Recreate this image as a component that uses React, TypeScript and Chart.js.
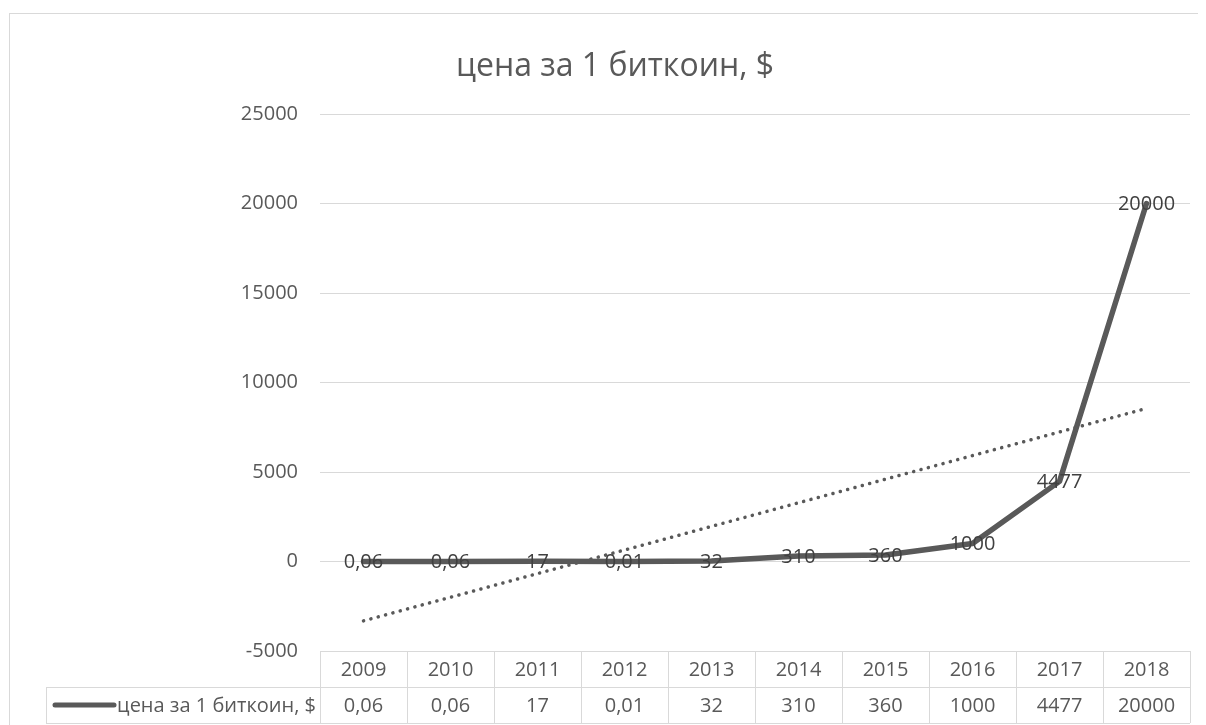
import React, { useEffect, useRef } from "react";
import { Chart, registerables } from "chart.js";

Chart.register(...registerables);

const TITLE = "цена за 1 биткоин, $";
const SERIES_NAME = "цена за 1 биткоин, $";
const YEARS = ["2009", "2010", "2011", "2012", "2013", "2014", "2015", "2016", "2017", "2018"];
const PRICES = [0.06, 0.06, 17, 0.01, 32, 310, 360, 1000, 4477, 20000];
const Y_MIN = -5000;
const Y_MAX = 25000;
const Y_STEP = 5000;

const FONT = "'Open Sans', 'Noto Sans', sans-serif";
const TEXT = "#595959";
const LABEL = "#404040";
const GRID = "#d9d9d9";
const LINE = "#595959";

const fmt = (v: number) => String(v).replace(".", ",");

// linear trendline (least squares) from the data, as Excel does
function linearTrend(values: number[]): number[] {
  const n = values.length;
  const xs = values.map((_, i) => i + 1);
  const mx = xs.reduce((a, b) => a + b, 0) / n;
  const my = values.reduce((a, b) => a + b, 0) / n;
  let sxy = 0;
  let sxx = 0;
  for (let i = 0; i < n; i++) {
    sxy += (xs[i] - mx) * (values[i] - my);
    sxx += (xs[i] - mx) * (xs[i] - mx);
  }
  const b = sxy / sxx;
  const a = my - b * mx;
  return xs.map((x) => a + b * x);
}

const decorPlugin = {
  id: "decor",
  beforeDraw(chart: any) {
    const { ctx } = chart;
    ctx.save();
    ctx.strokeStyle = GRID;
    ctx.lineWidth = 1;
    ctx.strokeRect(1.5, 5.5, chart.width + 20, chart.height + 20);
    ctx.restore();
  },
  afterDatasetsDraw(chart: any) {
    const { ctx, chartArea } = chart;
    const xs = chart.scales.x;
    const meta = chart.getDatasetMeta(0);
    ctx.save();
    // data labels
    ctx.font = `20px ${FONT}`;
    ctx.fillStyle = LABEL;
    ctx.textAlign = "center";
    ctx.textBaseline = "middle";
    meta.data.forEach((pt: any, i: number) => {
      ctx.fillText(fmt(PRICES[i]), pt.x, pt.y + 1);
    });

    // title
    ctx.font = `32px ${FONT}`;
    ctx.fillStyle = TEXT;
    ctx.fillText(TITLE, 607, 59);

    // data table
    const top = chartArea.bottom;
    const rowH = 36;
    const left = chartArea.left;
    const right = chartArea.right;
    const legendLeft = 38;
    const colW = (right - left) / YEARS.length;
    ctx.strokeStyle = GRID;
    ctx.lineWidth = 1;
    const crisp = (v: number) => Math.round(v) + 0.5;
    ctx.beginPath();
    // horizontal lines
    ctx.moveTo(left, crisp(top));
    ctx.lineTo(right, crisp(top));
    ctx.moveTo(legendLeft, crisp(top + rowH));
    ctx.lineTo(right, crisp(top + rowH));
    ctx.moveTo(legendLeft, crisp(top + 2 * rowH));
    ctx.lineTo(right, crisp(top + 2 * rowH));
    // vertical lines
    ctx.moveTo(crisp(legendLeft), top + rowH);
    ctx.lineTo(crisp(legendLeft), top + 2 * rowH);
    for (let i = 0; i <= YEARS.length; i++) {
      const x = crisp(left + i * colW);
      ctx.moveTo(x, top);
      ctx.lineTo(x, top + 2 * rowH);
    }
    ctx.stroke();

    ctx.font = `20px ${FONT}`;
    ctx.fillStyle = TEXT;
    ctx.textAlign = "center";
    ctx.textBaseline = "middle";
    YEARS.forEach((y, i) => {
      const cx = xs.getPixelForValue(i);
      ctx.fillText(y, cx, top + rowH / 2 + 1);
      ctx.fillText(fmt(PRICES[i]), cx, top + rowH * 1.5 + 1);
    });

    // legend key
    const ly = top + rowH * 1.5;
    ctx.strokeStyle = LINE;
    ctx.lineWidth = 5;
    ctx.lineCap = "round";
    ctx.beginPath();
    ctx.moveTo(47, ly);
    ctx.lineTo(106, ly);
    ctx.stroke();
    ctx.textAlign = "right";
    ctx.fillStyle = TEXT;
    ctx.fillText(SERIES_NAME, left - 4, ly + 1);
    ctx.restore();
  },
};

export default function App() {
  const ref = useRef<HTMLCanvasElement | null>(null);
  useEffect(() => {
    if (!ref.current) return;
    const trend = linearTrend(PRICES);
    const chart = new Chart(ref.current, {
      type: "line",
      data: {
        labels: YEARS,
        datasets: [
          {
            label: SERIES_NAME,
            data: PRICES,
            borderColor: LINE,
            borderWidth: 5.5,
            pointRadius: 0,
            borderCapStyle: "round",
            borderJoinStyle: "round",
            tension: 0,
            order: 1,
          },
          {
            label: "trend",
            data: trend,
            borderColor: LINE,
            borderWidth: 3.5,
            borderDash: [0.1, 7.5],
            borderCapStyle: "round",
            pointRadius: 0,
            tension: 0,
            order: 2,
          },
        ],
      },
      options: {
        animation: false,
        responsive: true,
        maintainAspectRatio: false,
        layout: { padding: { top: 106, bottom: 74, left: 0, right: 16 } },
        plugins: {
          legend: { display: false },
          title: { display: false },
          tooltip: { enabled: false },
        },
        scales: {
          x: {
            type: "category",
            offset: true,
            display: false,
          },
          y: {
            min: Y_MIN,
            max: Y_MAX,
            border: { display: false },
            grid: { color: GRID, lineWidth: 1, drawTicks: false },
            ticks: {
              stepSize: Y_STEP,
              padding: 22,
              color: TEXT,
              font: { family: FONT, size: 20 },
              callback: (v: any) => String(v),
            },
            afterFit: (scale: any) => {
              scale.width = 312;
            },
          },
        },
      },
      plugins: [decorPlugin],
    });
    return () => chart.destroy();
  }, []);

  return (
    <div style={{ width: 1198, height: 717, position: "relative" }}>
      <canvas ref={ref} />
    </div>
  );
}
